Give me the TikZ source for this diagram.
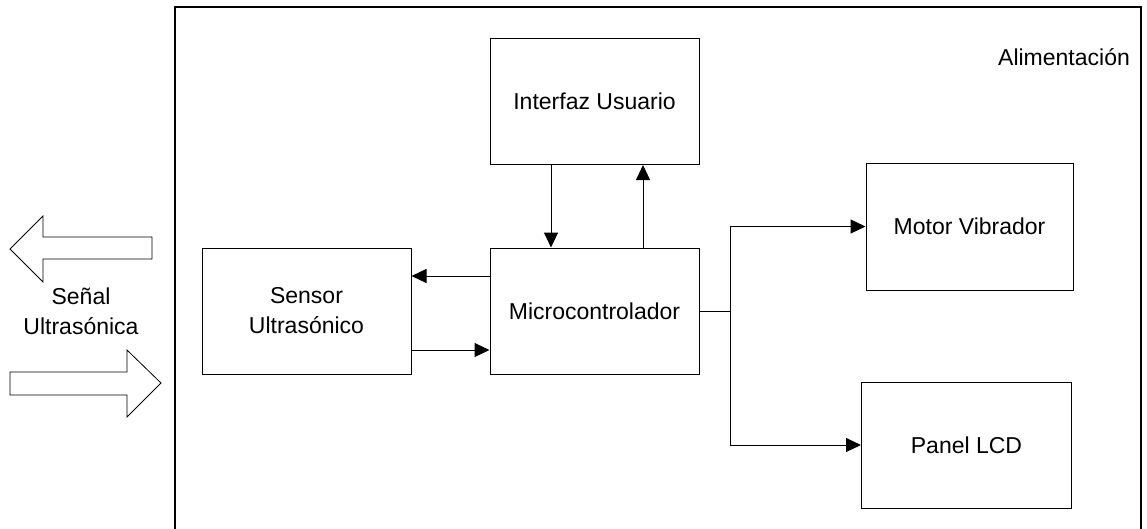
\documentclass[tikz,border=0pt]{standalone}
\usepackage{fontspec}
\setmainfont{Liberation Sans}
\usetikzlibrary{arrows.meta,positioning}
\begin{document}
\begin{tikzpicture}[x=1pt,y=-1pt,
  every node/.style={font=\fontsize{23}{28}\selectfont},
  block/.style={draw=black,line width=1pt,fill=white,minimum width=209pt,minimum height=126pt,align=center,inner sep=0pt},
  link/.style={draw=black,line width=1pt},
  flow/.style={link,-{Triangle[length=15pt,width=14pt]}},
  bigarrow/.style={draw=black,line width=0.8pt,fill=white,line join=miter}]
\useasboundingbox (0,0) rectangle (1147,528);
\fill[white] (0,0) rectangle (1147,528);

% power-supply enclosure, open at the bottom
\draw[line width=2pt] (175,540) -- (175,7) -- (1141,7) -- (1141,540);
\node[anchor=center] (alim) at (1064,57) {Alimentación};

% functional blocks
\node[block] (iu)  at (594.5,101.5) {Interfaz Usuario};
\node[block] (mc)  at (594.5,311)   {Microcontrolador};
\node[block] (su)  at (306.5,311)   {Sensor\\[2pt]Ultrasónico};
\node[block,minimum width=207pt,minimum height=127pt] (mv) at (969.5,226.5) {Motor Vibrador};
\node[block,minimum width=210pt] (lcd) at (966.5,445) {Panel LCD};

% user interface <-> microcontroller
\draw[flow] ([xshift=-43.5pt]iu.south) -- ([xshift=-43.5pt]mc.north);
\draw[flow] ([xshift=48.5pt]mc.north) -- ([xshift=48.5pt]iu.south);

% sensor <-> microcontroller
\draw[flow] ([yshift=35pt]mc.west) -- ([yshift=35pt]su.east);
\draw[flow] ([yshift=-39pt]su.east) -- ([yshift=-39pt]mc.west);

% outputs
\coordinate (j) at (730,311);
\draw[link] (mc.east) -- (j);
\draw[flow] (j) |- (mv.west);
\draw[flow] (j) |- (lcd.west);

% ultrasonic signal, emitted and received
\draw[bigarrow] (10,249) -- (43,216) -- (43,237) -- (152,237) -- (152,259) -- (43,259) -- (43,282) -- cycle;
\draw[bigarrow] (10,372) -- (127,372) -- (127,350) -- (161,383) -- (127,417) -- (127,395) -- (10,395) -- cycle;
\node[align=center] (sig) at (81,311) {Señal\\[2pt]Ultrasónica};
\end{tikzpicture}
\end{document}
